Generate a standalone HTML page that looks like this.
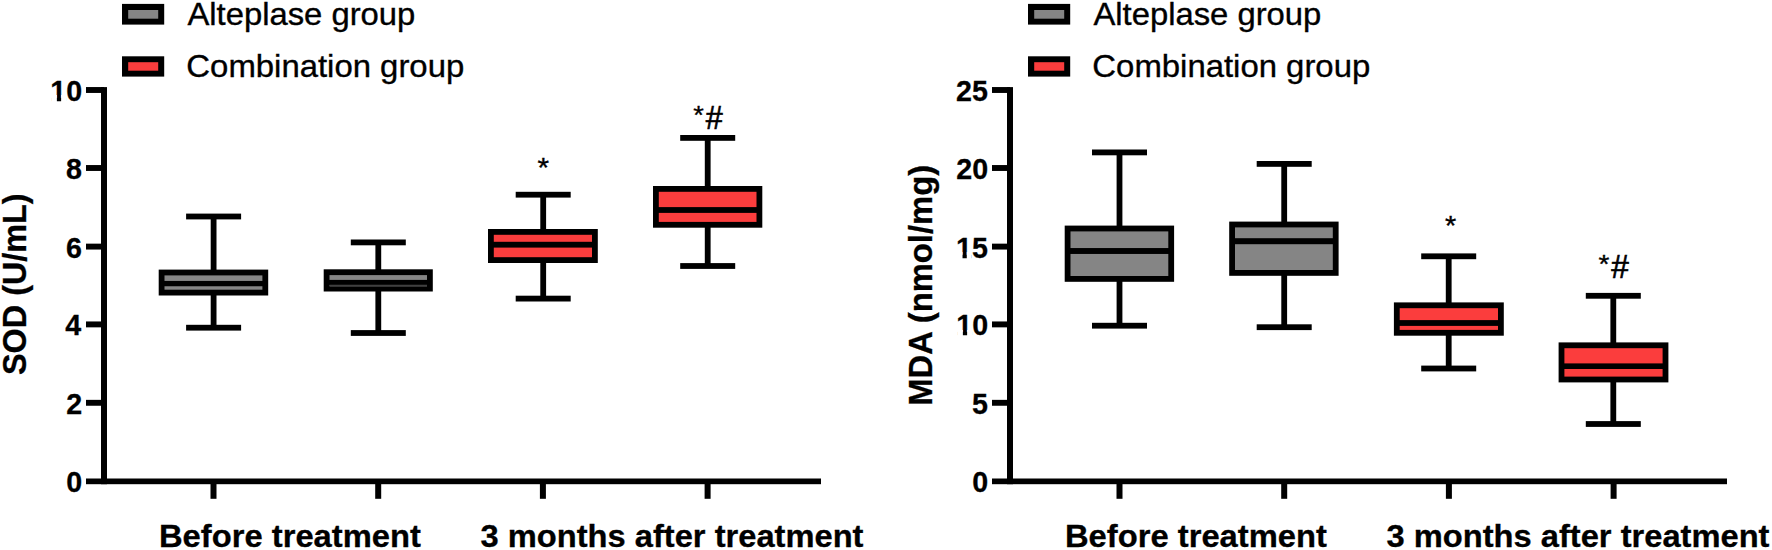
<!DOCTYPE html>
<html><head><meta charset="utf-8"><title>SOD and MDA box plots</title>
<style>
html,body{margin:0;padding:0;background:#fff;}
body{width:1772px;height:550px;overflow:hidden;}
svg{display:block;font-family:"Liberation Sans",sans-serif;fill:#000;}
text.r{font-weight:normal;stroke:#000;stroke-width:0.35px;}
text.h{stroke-width:0.7px;}
text.b{font-weight:bold;stroke:#000;stroke-width:0.3px;}
</style></head><body>
<svg width="1772" height="550" viewBox="0 0 1772 550">
<rect x="0" y="0" width="1772" height="550" fill="#ffffff"/>
<!-- chart dx=0 -->
<rect x="101.00" y="87.10" width="6.00" height="397.10" fill="#000"/>
<rect x="86.00" y="478.50" width="735.00" height="5.70" fill="#000"/>
<rect x="86.00" y="87.05" width="18.00" height="5.90" fill="#000"/>
<text class="b" x="50.34" y="101.00" font-size="30.00" textLength="31.87" lengthAdjust="spacingAndGlyphs">10</text>
<rect x="86.00" y="165.05" width="18.00" height="5.90" fill="#000"/>
<text class="b" x="65.96" y="179.00" font-size="30.00" textLength="15.93" lengthAdjust="spacingAndGlyphs">8</text>
<rect x="86.00" y="243.65" width="18.00" height="5.90" fill="#000"/>
<text class="b" x="66.10" y="257.60" font-size="30.00" textLength="15.93" lengthAdjust="spacingAndGlyphs">6</text>
<rect x="86.00" y="321.45" width="18.00" height="5.90" fill="#000"/>
<text class="b" x="65.24" y="335.40" font-size="30.00" textLength="15.93" lengthAdjust="spacingAndGlyphs">4</text>
<rect x="86.00" y="399.85" width="18.00" height="5.90" fill="#000"/>
<text class="b" x="66.25" y="413.80" font-size="30.00" textLength="15.93" lengthAdjust="spacingAndGlyphs">2</text>
<text class="b" x="66.25" y="492.30" font-size="30.00" textLength="15.93" lengthAdjust="spacingAndGlyphs">0</text>
<rect x="210.50" y="481.00" width="6.00" height="17.80" fill="#000"/>
<rect x="375.20" y="481.00" width="6.00" height="17.80" fill="#000"/>
<rect x="539.90" y="481.00" width="6.00" height="17.80" fill="#000"/>
<rect x="704.60" y="481.00" width="6.00" height="17.80" fill="#000"/>
<text class="b" x="158.99" y="546.70" font-size="32.20" textLength="261.91" lengthAdjust="spacingAndGlyphs">Before treatment</text>
<text class="b" x="480.52" y="546.70" font-size="32.20" textLength="382.99" lengthAdjust="spacingAndGlyphs">3 months after treatment</text>
<text class="b" transform="rotate(-90)" x="-374.97" y="26.00" font-size="32.50" textLength="181.62" lengthAdjust="spacingAndGlyphs">SOD (U/mL)</text>
<rect x="122.00" y="3.90" width="42.20" height="20.70" fill="#000"/>
<rect x="128.20" y="10.00" width="30.00" height="8.70" fill="#858585"/>
<rect x="122.00" y="56.30" width="42.20" height="20.30" fill="#000"/>
<rect x="128.20" y="62.20" width="30.00" height="8.50" fill="#fb3d3d"/>
<text class="r" x="187.42" y="25.30" font-size="31.70" textLength="227.96" lengthAdjust="spacingAndGlyphs">Alteplase group</text>
<text class="r" x="186.36" y="76.70" font-size="31.70" textLength="277.86" lengthAdjust="spacingAndGlyphs">Combination group</text>
<rect x="210.70" y="216.50" width="5.80" height="111.20" fill="#000"/>
<rect x="186.10" y="213.60" width="55.00" height="5.80" fill="#000"/>
<rect x="186.10" y="324.80" width="55.00" height="5.80" fill="#000"/>
<rect x="158.70" y="269.60" width="109.50" height="25.90" fill="#000"/>
<rect x="164.50" y="275.40" width="97.90" height="14.30" fill="#858585"/>
<rect x="159.70" y="280.95" width="107.50" height="5.30" fill="#000"/>
<rect x="375.40" y="242.40" width="5.80" height="90.60" fill="#000"/>
<rect x="350.80" y="239.50" width="55.00" height="5.80" fill="#000"/>
<rect x="350.80" y="330.10" width="55.00" height="5.80" fill="#000"/>
<rect x="323.70" y="269.30" width="109.10" height="22.20" fill="#000"/>
<rect x="329.50" y="275.10" width="97.50" height="10.60" fill="#858585"/>
<rect x="324.70" y="279.90" width="107.10" height="5.00" fill="#000"/>
<rect x="540.30" y="194.70" width="5.80" height="103.90" fill="#000"/>
<rect x="515.70" y="191.80" width="55.00" height="5.80" fill="#000"/>
<rect x="515.70" y="295.70" width="55.00" height="5.80" fill="#000"/>
<rect x="488.00" y="229.00" width="109.80" height="34.00" fill="#000"/>
<rect x="493.80" y="234.80" width="98.20" height="22.40" fill="#fb3d3d"/>
<rect x="489.00" y="241.80" width="107.80" height="5.80" fill="#000"/>
<rect x="704.80" y="137.90" width="5.80" height="128.10" fill="#000"/>
<rect x="680.20" y="135.00" width="55.00" height="5.80" fill="#000"/>
<rect x="680.20" y="263.10" width="55.00" height="5.80" fill="#000"/>
<rect x="653.00" y="186.00" width="109.30" height="41.70" fill="#000"/>
<rect x="658.80" y="191.80" width="97.70" height="30.10" fill="#fb3d3d"/>
<rect x="654.00" y="207.10" width="107.30" height="5.80" fill="#000"/>
<text class="r" x="537.55" y="177.43" font-size="27.29" textLength="11.57" lengthAdjust="spacingAndGlyphs">*</text>
<text class="r" x="693.20" y="124.15" font-size="26.14" textLength="10.58" lengthAdjust="spacingAndGlyphs">*</text>
<text class="r h" x="705.70" y="129.15" font-size="33.58" textLength="16.96" lengthAdjust="spacingAndGlyphs">#</text>
<rect x="329.50" y="284.90" width="97.50" height="1.90" fill="#404040"/>
<rect x="51.20" y="95.00" width="5.67" height="8.00" fill="#fff"/>
<rect x="61.12" y="95.00" width="4.92" height="8.00" fill="#fff"/>
<!-- chart dx=906 -->
<rect x="1007.00" y="87.10" width="6.00" height="397.10" fill="#000"/>
<rect x="992.00" y="478.50" width="735.00" height="5.70" fill="#000"/>
<rect x="992.00" y="87.05" width="18.00" height="5.90" fill="#000"/>
<text class="b" x="955.99" y="101.00" font-size="30.00" textLength="31.87" lengthAdjust="spacingAndGlyphs">25</text>
<rect x="992.00" y="165.05" width="18.00" height="5.90" fill="#000"/>
<text class="b" x="956.34" y="179.00" font-size="30.00" textLength="31.87" lengthAdjust="spacingAndGlyphs">20</text>
<rect x="992.00" y="243.65" width="18.00" height="5.90" fill="#000"/>
<text class="b" x="955.99" y="257.60" font-size="30.00" textLength="31.87" lengthAdjust="spacingAndGlyphs">15</text>
<rect x="992.00" y="321.45" width="18.00" height="5.90" fill="#000"/>
<text class="b" x="956.34" y="335.40" font-size="30.00" textLength="31.87" lengthAdjust="spacingAndGlyphs">10</text>
<rect x="992.00" y="399.85" width="18.00" height="5.90" fill="#000"/>
<text class="b" x="971.89" y="413.80" font-size="30.00" textLength="15.93" lengthAdjust="spacingAndGlyphs">5</text>
<text class="b" x="972.25" y="492.30" font-size="30.00" textLength="15.93" lengthAdjust="spacingAndGlyphs">0</text>
<rect x="1116.50" y="481.00" width="6.00" height="17.80" fill="#000"/>
<rect x="1281.20" y="481.00" width="6.00" height="17.80" fill="#000"/>
<rect x="1445.90" y="481.00" width="6.00" height="17.80" fill="#000"/>
<rect x="1610.60" y="481.00" width="6.00" height="17.80" fill="#000"/>
<text class="b" x="1064.99" y="546.70" font-size="32.20" textLength="261.91" lengthAdjust="spacingAndGlyphs">Before treatment</text>
<text class="b" x="1386.52" y="546.70" font-size="32.20" textLength="382.99" lengthAdjust="spacingAndGlyphs">3 months after treatment</text>
<text class="b" transform="rotate(-90)" x="-405.81" y="932.00" font-size="32.60" textLength="240.98" lengthAdjust="spacingAndGlyphs">MDA (nmol/mg)</text>
<rect x="1028.00" y="3.90" width="42.20" height="20.70" fill="#000"/>
<rect x="1034.20" y="10.00" width="30.00" height="8.70" fill="#858585"/>
<rect x="1028.00" y="56.30" width="42.20" height="20.30" fill="#000"/>
<rect x="1034.20" y="62.20" width="30.00" height="8.50" fill="#fb3d3d"/>
<text class="r" x="1093.42" y="25.30" font-size="31.70" textLength="227.96" lengthAdjust="spacingAndGlyphs">Alteplase group</text>
<text class="r" x="1092.36" y="76.70" font-size="31.70" textLength="277.86" lengthAdjust="spacingAndGlyphs">Combination group</text>
<rect x="1116.60" y="152.40" width="5.80" height="173.30" fill="#000"/>
<rect x="1092.00" y="149.50" width="55.00" height="5.80" fill="#000"/>
<rect x="1092.00" y="322.80" width="55.00" height="5.80" fill="#000"/>
<rect x="1064.70" y="225.60" width="109.40" height="56.20" fill="#000"/>
<rect x="1070.50" y="231.40" width="97.80" height="44.60" fill="#858585"/>
<rect x="1065.70" y="248.05" width="107.40" height="5.90" fill="#000"/>
<rect x="1281.30" y="163.90" width="5.80" height="163.30" fill="#000"/>
<rect x="1256.70" y="161.00" width="55.00" height="5.80" fill="#000"/>
<rect x="1256.70" y="324.30" width="55.00" height="5.80" fill="#000"/>
<rect x="1229.20" y="221.60" width="109.40" height="54.20" fill="#000"/>
<rect x="1235.00" y="227.40" width="97.80" height="42.60" fill="#858585"/>
<rect x="1230.20" y="238.20" width="107.40" height="6.00" fill="#000"/>
<rect x="1445.80" y="256.30" width="5.80" height="112.20" fill="#000"/>
<rect x="1421.20" y="253.40" width="55.00" height="5.80" fill="#000"/>
<rect x="1421.20" y="365.60" width="55.00" height="5.80" fill="#000"/>
<rect x="1393.90" y="302.40" width="109.90" height="33.30" fill="#000"/>
<rect x="1399.70" y="308.20" width="98.30" height="21.70" fill="#fb3d3d"/>
<rect x="1394.90" y="320.10" width="107.90" height="5.80" fill="#000"/>
<rect x="1610.40" y="295.80" width="5.80" height="128.20" fill="#000"/>
<rect x="1585.80" y="292.90" width="55.00" height="5.80" fill="#000"/>
<rect x="1585.80" y="421.10" width="55.00" height="5.80" fill="#000"/>
<rect x="1558.60" y="342.40" width="109.80" height="40.00" fill="#000"/>
<rect x="1564.40" y="348.20" width="98.20" height="28.40" fill="#fb3d3d"/>
<rect x="1559.60" y="363.40" width="107.80" height="5.60" fill="#000"/>
<text class="r" x="1445.07" y="234.74" font-size="26.71" textLength="11.24" lengthAdjust="spacingAndGlyphs">*</text>
<text class="r" x="1598.48" y="272.94" font-size="26.43" textLength="10.91" lengthAdjust="spacingAndGlyphs">*</text>
<text class="r h" x="1611.29" y="277.95" font-size="33.58" textLength="17.57" lengthAdjust="spacingAndGlyphs">#</text>
<rect x="956.85" y="252.00" width="5.67" height="7.00" fill="#fff"/>
<rect x="966.77" y="252.00" width="4.92" height="7.00" fill="#fff"/>
<rect x="957.20" y="330.00" width="5.67" height="7.00" fill="#fff"/>
<rect x="967.12" y="330.00" width="4.92" height="7.00" fill="#fff"/>
</svg>
</body></html>
